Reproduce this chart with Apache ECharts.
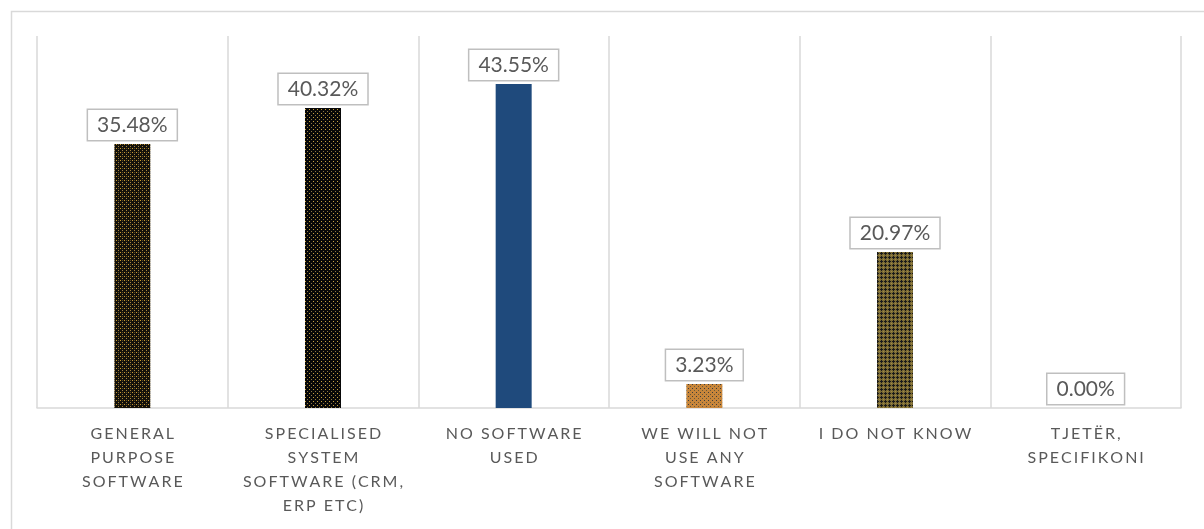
<!DOCTYPE html>
<html>
<head>
<meta charset="utf-8">
<style>
  html, body { margin: 0; padding: 0; background: #ffffff; }
  #chart { width: 1204px; height: 529px; }
</style>
<script src="https://cdn.jsdelivr.net/npm/echarts@6/dist/echarts.min.js"></script>
</head>
<body>
<div id="chart"></div>
<script>
// Software used for managing the business (share of respondents, %)
const categories = [
  'GENERAL\nPURPOSE\nSOFTWARE',
  'SPECIALISED\nSYSTEM\nSOFTWARE (CRM,\nERP ETC)',
  'NO SOFTWARE\nUSED',
  'WE WILL NOT\nUSE ANY\nSOFTWARE',
  'I DO NOT KNOW',
  'TJETËR,\nSPECIFIKONI'
];
const shares = [35.48, 40.32, 43.55, 3.23, 20.97, 0.00];
const axisMax = 50;

// Small repeating tiles used as bar fills
function tile(size, bg, dots) {
  const c = document.createElement('canvas');
  c.width = size; c.height = size;
  const g = c.getContext('2d');
  g.fillStyle = bg;
  g.fillRect(0, 0, size, size);
  dots.forEach(([x, y, col]) => { g.fillStyle = col; g.fillRect(x, y, 1, 1); });
  return { image: c, repeat: 'repeat' };
}

const fills = [
  // near-black grid with gold dots
  tile(4, '#14110a', [[0,0,'#c99a30'],[2,2,'#a58442'],[2,0,'#5a4a26']]),
  // black with sparse gold dots
  tile(4, '#080808', [[1,1,'#c9a23e'],[3,3,'#8c7644']]),
  // solid navy
  '#1f4a7c',
  // orange-brown with dark dots
  tile(4, '#c8863a', [[0,0,'#3c3c3c'],[2,2,'#6a5a3a']]),
  // dark olive with black crosses
  tile(4, '#7a6a34', [[1,0,'#1a1a1a'],[0,1,'#1a1a1a'],[1,1,'#1a1a1a'],[2,1,'#1a1a1a'],[1,2,'#1a1a1a'],[3,3,'#a08a46']]),
  '#1f4a7c'
];

// Letter-spaced axis labels (thin spaces between characters)
function spaced(s) {
  return s.split('\n').map(line => Array.from(line).join('\u2009')).join('\n');
}

const chart = echarts.init(document.getElementById('chart'), null, { renderer: 'canvas' });

chart.setOption({
  backgroundColor: '#ffffff',
  animation: false,
  graphic: [{
    type: 'rect',
    left: 9, top: 9,
    shape: { x: 0, y: 0, width: 1400, height: 700 },
    style: { fill: 'none', stroke: '#d9d9d9', lineWidth: 1.5 },
    silent: true
  }],
  grid: { left: 37, right: 23, top: 36, bottom: 121 },
  xAxis: {
    type: 'category',
    data: categories,
    boundaryGap: true,
    axisLine: { show: true, lineStyle: { color: '#d9d9d9', width: 1.5 } },
    axisTick: { show: false },
    splitLine: { show: true, lineStyle: { color: '#d9d9d9', width: 1.5 } },
    axisLabel: {
      interval: 0,
      margin: 14,
      color: '#595959',
      fontFamily: 'Lato',
      fontSize: 16,
      lineHeight: 24,
      align: 'center',
      formatter: v => spaced(v)
    }
  },
  yAxis: {
    type: 'value',
    min: 0,
    max: axisMax,
    show: false,
    splitLine: { show: false }
  },
  series: [{
    type: 'bar',
    barWidth: 36,
    data: shares.map((v, i) => ({ value: v, itemStyle: { color: fills[i] } })),
    label: {
      show: true,
      position: 'top',
      distance: 4,
      color: '#595959',
      fontFamily: 'Lato',
      fontSize: 21,
      backgroundColor: '#ffffff',
      borderColor: '#bfbfbf',
      borderWidth: 1.5,
      padding: [5, 9, 4, 9],
      formatter: p => p.value.toFixed(2) + '%'
    }
  }]
});
</script>
</body>
</html>
